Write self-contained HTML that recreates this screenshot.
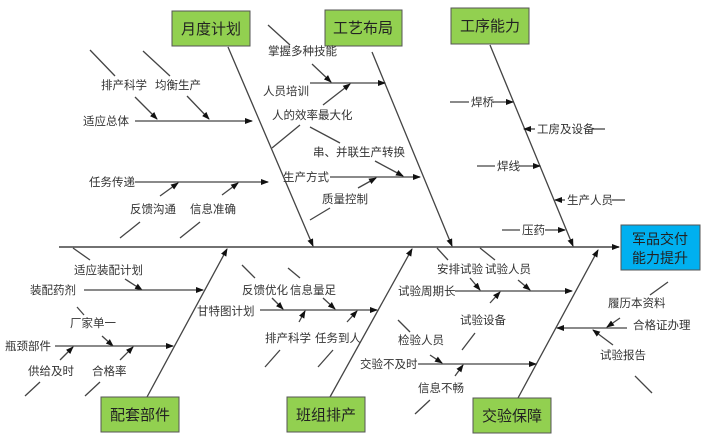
<!DOCTYPE html>
<html><head><meta charset="utf-8"><style>
html,body{margin:0;padding:0;background:#fff;}
svg{display:block;}
text{font-family:"Liberation Sans","Noto Sans CJK SC",sans-serif;font-size:11.5px;fill:#333;}
.b{font-size:15px;fill:#222;}
</style></head><body>
<svg width="702" height="435" viewBox="0 0 702 435" xmlns="http://www.w3.org/2000/svg">
<defs><marker id="a" markerWidth="8" markerHeight="8" refX="7" refY="4" orient="auto" markerUnits="userSpaceOnUse"><path d="M0,1 L8,4 L0,7 z" fill="#111"/></marker></defs>
<g stroke="#444" stroke-width="1.3" fill="none">
<!-- spine -->
<line x1="59" y1="247" x2="619" y2="247" marker-end="url(#a)" stroke-width="1.6"/>
<!-- bones -->
<line x1="228" y1="47" x2="313" y2="246" marker-end="url(#a)"/>
<line x1="372" y1="52" x2="452" y2="246" marker-end="url(#a)"/>
<line x1="490" y1="45" x2="573" y2="246" marker-end="url(#a)"/>
<line x1="147" y1="397" x2="227" y2="249" marker-end="url(#a)"/>
<line x1="330" y1="397" x2="412" y2="249" marker-end="url(#a)"/>
<line x1="518" y1="398" x2="598" y2="250" marker-end="url(#a)"/>
<!-- 月度计划 subs -->
<line x1="135" y1="121" x2="252" y2="121" marker-end="url(#a)"/>
<line x1="90" y1="50" x2="115" y2="76"/><line x1="135" y1="97" x2="157" y2="119" marker-end="url(#a)"/>
<line x1="143" y1="51" x2="170" y2="76"/><line x1="187" y1="96" x2="209" y2="119" marker-end="url(#a)"/>
<line x1="135" y1="182" x2="268" y2="182" marker-end="url(#a)"/>
<line x1="160" y1="196" x2="178" y2="183" marker-end="url(#a)"/><line x1="120" y1="238" x2="140" y2="222"/>
<line x1="222" y1="195" x2="238" y2="183" marker-end="url(#a)"/><line x1="180" y1="238" x2="200" y2="222"/>
<!-- 工艺布局 subs -->
<line x1="310" y1="83" x2="385" y2="83" marker-end="url(#a)"/>
<line x1="268" y1="25" x2="290" y2="45"/><line x1="312" y1="64" x2="331" y2="82" marker-end="url(#a)"/>
<line x1="323" y1="105" x2="350" y2="84" marker-end="url(#a)"/>
<line x1="272" y1="148" x2="300" y2="125"/>
<line x1="310" y1="127" x2="340" y2="143"/>
<line x1="375" y1="161" x2="403" y2="176" marker-end="url(#a)"/>
<line x1="330" y1="177" x2="420" y2="177" marker-end="url(#a)"/>
<line x1="358" y1="188" x2="376" y2="178" marker-end="url(#a)"/>
<line x1="310" y1="220" x2="330" y2="208"/>
<!-- 工序能力 subs -->
<line x1="450" y1="102" x2="469" y2="102"/><line x1="493" y1="102" x2="513" y2="102" marker-end="url(#a)"/>
<line x1="535" y1="129" x2="524" y2="129" marker-end="url(#a)"/><line x1="592" y1="129" x2="605" y2="129"/>
<line x1="477" y1="166" x2="495" y2="166"/><line x1="519" y1="166" x2="540" y2="166" marker-end="url(#a)"/>
<line x1="565" y1="200" x2="555" y2="200" marker-end="url(#a)"/><line x1="612" y1="200" x2="625" y2="200"/>
<line x1="502" y1="230" x2="520" y2="230"/><line x1="545" y1="230" x2="565" y2="230" marker-end="url(#a)"/>
<!-- 配套部件 subs -->
<line x1="73" y1="248" x2="90" y2="260"/>
<line x1="125" y1="279" x2="142" y2="290" marker-end="url(#a)"/>
<line x1="84" y1="290" x2="203" y2="290" marker-end="url(#a)"/>
<line x1="77" y1="307" x2="84" y2="315"/>
<line x1="102" y1="336" x2="113" y2="346" marker-end="url(#a)"/>
<line x1="55" y1="346" x2="173" y2="346" marker-end="url(#a)"/>
<line x1="60" y1="360" x2="73" y2="347" marker-end="url(#a)"/><line x1="25" y1="396" x2="40" y2="382"/>
<line x1="120" y1="360" x2="133" y2="347" marker-end="url(#a)"/><line x1="85" y1="396" x2="100" y2="382"/>
<!-- 班组排产 subs -->
<line x1="260" y1="310" x2="377" y2="310" marker-end="url(#a)"/>
<line x1="242" y1="265" x2="255" y2="278"/><line x1="272" y1="298" x2="283" y2="309" marker-end="url(#a)"/>
<line x1="288" y1="268" x2="300" y2="278"/><line x1="323" y1="298" x2="335" y2="309" marker-end="url(#a)"/>
<line x1="299" y1="322" x2="305" y2="311" marker-end="url(#a)"/><line x1="265" y1="367" x2="280" y2="350"/>
<line x1="347" y1="322" x2="357" y2="311" marker-end="url(#a)"/><line x1="318" y1="367" x2="333" y2="350"/>
<!-- 交验保障 subs -->
<line x1="455" y1="291" x2="572" y2="291" marker-end="url(#a)"/>
<line x1="437" y1="248" x2="448" y2="260"/><line x1="470" y1="278" x2="480" y2="290" marker-end="url(#a)"/>
<line x1="480" y1="248" x2="495" y2="260"/><line x1="518" y1="280" x2="530" y2="290" marker-end="url(#a)"/>
<line x1="490" y1="303" x2="500" y2="292" marker-end="url(#a)"/><line x1="462" y1="350" x2="475" y2="333"/>
<line x1="418" y1="364" x2="536" y2="364" marker-end="url(#a)"/>
<line x1="398" y1="320" x2="410" y2="332"/><line x1="430" y1="355" x2="442" y2="363" marker-end="url(#a)"/>
<line x1="455" y1="376" x2="463" y2="365" marker-end="url(#a)"/><line x1="415" y1="414" x2="430" y2="400"/>
<!-- right -->
<line x1="627" y1="328" x2="557" y2="328" marker-end="url(#a)"/>
<line x1="650" y1="295" x2="668" y2="282"/>
<line x1="620" y1="318" x2="607" y2="327" marker-end="url(#a)"/>
<line x1="613" y1="345" x2="593" y2="330" marker-end="url(#a)"/>
<line x1="635" y1="376" x2="652" y2="393"/>
</g>
<!-- boxes -->
<g stroke="#555" stroke-width="1">
<rect x="172" y="11" width="78" height="35" fill="#92d050"/>
<rect x="325" y="10" width="77" height="36" fill="#92d050"/>
<rect x="451" y="8" width="78" height="36" fill="#92d050"/>
<rect x="101" y="397" width="78" height="35" fill="#92d050"/>
<rect x="287" y="397" width="78" height="35" fill="#92d050"/>
<rect x="473" y="398" width="78" height="35" fill="#92d050"/>
<rect x="621" y="225" width="79" height="45" fill="#00b0f0"/>
</g>
<g class="b" text-anchor="middle">
<text class="b" x="211" y="34">月度计划</text>
<text class="b" x="363" y="33">工艺布局</text>
<text class="b" x="490" y="31">工序能力</text>
<text class="b" x="140" y="420">配套部件</text>
<text class="b" x="326" y="420">班组排产</text>
<text class="b" x="512" y="421">交验保障</text>
<text class="b" x="660" y="244" style="font-size:14px">军品交付</text>
<text class="b" x="660" y="263" style="font-size:14px">能力提升</text>
</g>
<g>
<text x="101" y="89">排产科学</text><text x="155" y="89">均衡生产</text>
<text x="83" y="125">适应总体</text>
<text x="89" y="186">任务传递</text>
<text x="130" y="213">反馈沟通</text><text x="190" y="213">信息准确</text>
<text x="268" y="55">掌握多种技能</text>
<text x="263" y="95">人员培训</text>
<text x="272" y="119">人的效率最大化</text>
<text x="313" y="156">串、并联生产转换</text>
<text x="283" y="181">生产方式</text>
<text x="322" y="203">质量控制</text>
<text x="471" y="106">焊桥</text>
<text x="537" y="133">工房及设备</text>
<text x="497" y="170">焊线</text>
<text x="567" y="204">生产人员</text>
<text x="522" y="234">压药</text>
<text x="74" y="274">适应装配计划</text>
<text x="30" y="294">装配药剂</text>
<text x="70" y="327">厂家单一</text>
<text x="5" y="350">瓶颈部件</text>
<text x="28" y="375">供给及时</text><text x="92" y="375">合格率</text>
<text x="242" y="294">反馈优化</text><text x="290" y="294">信息量足</text>
<text x="197" y="315">甘特图计划</text>
<text x="265" y="342">排产科学</text><text x="315" y="342">任务到人</text>
<text x="437" y="273">安排试验</text><text x="485" y="273">试验人员</text>
<text x="398" y="295">试验周期长</text>
<text x="460" y="324">试验设备</text>
<text x="398" y="344">检验人员</text>
<text x="360" y="368">交验不及时</text>
<text x="418" y="392">信息不畅</text>
<text x="608" y="307">履历本资料</text>
<text x="633" y="329">合格证办理</text>
<text x="600" y="359">试验报告</text>
</g>
</svg>
</body></html>
